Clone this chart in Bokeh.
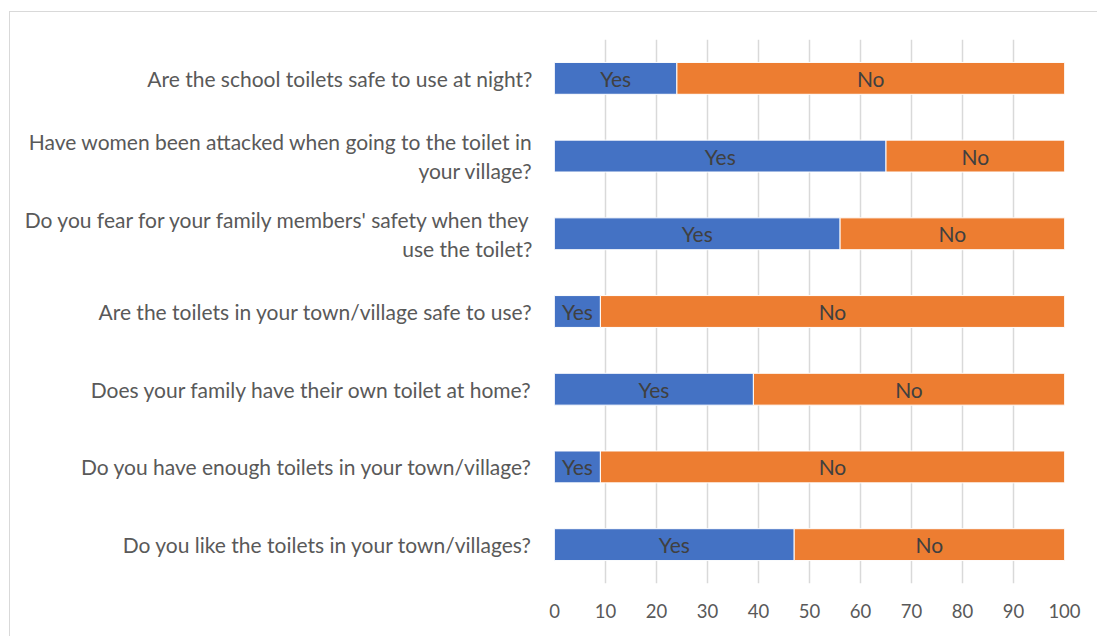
from bokeh.plotting import figure
from bokeh.models import ColumnDataSource, FactorRange
from bokeh.embed import file_html
from bokeh.resources import INLINE
from bokeh.core.properties import value

questions = [
    "Are the school toilets safe to use at night?",
    "Have women been attacked when going to the toilet in\nyour village?",
    "Do you fear for your family members' safety when they\nuse the toilet?",
    "Are the toilets in your town/village safe to use?",
    "Does your family have their own toilet at home?",
    "Do you have enough toilets in your town/village?",
    "Do you like the toilets in your town/villages?",
]
yes = [24, 65, 56, 9, 39, 9, 47]
no = [76, 35, 44, 91, 61, 91, 53]
x_ticks = [0, 10, 20, 30, 40, 50, 60, 70, 80, 90, 100]

FONT = "Lato"
TXT = "#595959"

src = ColumnDataSource(dict(
    q=questions, Yes=yes, No=no,
    yes_mid=[v / 2 for v in yes],
    no_mid=[a + b / 2 for a, b in zip(yes, no)],
    yes_lbl=["Yes"] * len(yes), no_lbl=["No"] * len(no),
))

p = figure(width=1088, height=625, output_backend="svg", toolbar_location=None,
           y_range=FactorRange(factors=list(reversed(questions))),
           x_range=(0, 100),
           min_border_left=544, min_border_right=34, min_border_top=27, min_border_bottom=54)
p.styles = {"border-left": "1px solid #d9d9d9", "border-top": "1px solid #d9d9d9",
            "margin-left": "9px", "margin-top": "11px"}
p.outline_line_color = None
p.y_range.range_padding = 0

p.hbar_stack(["Yes", "No"], y="q", height=0.41, color=["#4472C4", "#ED7D31"],
             line_color="white", line_width=1, source=src)
p.text(x="yes_mid", y="q", text="yes_lbl", source=src, text_align="center",
       text_baseline="middle", text_font=value(FONT), text_font_size="21px", text_color="#404040")
p.text(x="no_mid", y="q", text="no_lbl", source=src, text_align="center",
       text_baseline="middle", text_font=value(FONT), text_font_size="21px", text_color="#404040")

p.xaxis.ticker = x_ticks
p.xgrid.ticker = x_ticks
p.xgrid.grid_line_color = "#d9d9d9"
p.xgrid.grid_line_width = 1.5
p.ygrid.grid_line_color = None
for ax in (p.xaxis[0], p.yaxis[0]):
    ax.axis_line_color = None
    ax.major_tick_line_color = None
    ax.minor_tick_line_color = None
    ax.major_tick_out = 0
    ax.major_label_text_font = FONT
    ax.major_label_text_color = TXT
p.xaxis.major_label_text_font_size = "18.5px"
p.yaxis.major_label_text_font_size = "21px"
p.xaxis.major_label_standoff = 20
p.yaxis.major_label_standoff = 22
p.yaxis.major_label_text_line_height = 1.15

open("out.html", "w").write(file_html(p, INLINE))
